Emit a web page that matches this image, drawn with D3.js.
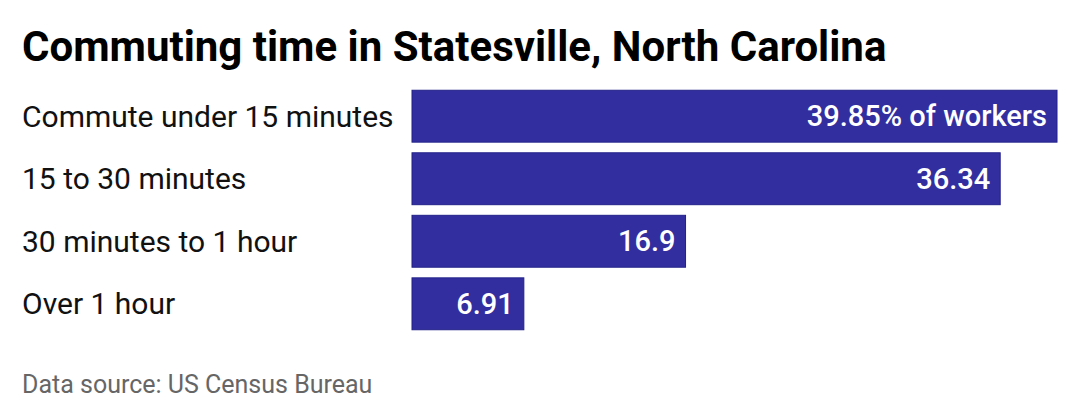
<!DOCTYPE html>
<html><head><meta charset="utf-8">
<script src="https://cdn.jsdelivr.net/npm/d3@7"></script>
<style>body{margin:0;background:#fff;font-family:Roboto,sans-serif;}</style>
</head><body>
<svg id="chart" width="1080" height="420"></svg>
<script>
const categories = ["Commute under 15 minutes", "15 to 30 minutes", "30 minutes to 1 hour", "Over 1 hour"];
const values = [39.85, 36.34, 16.9, 6.91];
const valueLabels = ["39.85% of workers", "36.34", "16.9", "6.91"];

const svg = d3.select("#chart");
const x = d3.scaleLinear().domain([0, 39.85]).range([412, 1057]);
const y = d3.scaleBand().domain(categories).range([89, 331]).paddingInner(0.17).paddingOuter(0.02);

svg.append("text").attr("x", 22).attr("y", 61)
    .style("font-size", "42px").style("font-weight", 700).attr("fill", "#000")
    .text("Commuting time in Statesville, North Carolina");

svg.selectAll(".bar").data(values).enter().append("rect")
    .attr("x", x(0)).attr("y", (d, i) => y(categories[i]))
    .attr("width", d => x(d) - x(0)).attr("height", y.bandwidth())
    .attr("fill", "#332ea0").attr("stroke", "#222088").attr("stroke-width", 1);

svg.selectAll(".cat").data(categories).enter().append("text")
    .attr("x", 22).attr("y", d => y(d) + y.bandwidth() / 2)
    .attr("dy", "0.35em").style("font-size", "30px").attr("fill", "#111")
    .text(d => d);

svg.selectAll(".val").data(values).enter().append("text")
    .attr("x", d => x(d) - 10).attr("y", (d, i) => y(categories[i]) + y.bandwidth() / 2)
    .attr("dy", "0.35em").attr("text-anchor", "end").style("font-size", "29px")
    .style("font-weight", 500).attr("fill", "#fff")
    .text((d, i) => valueLabels[i]);

svg.append("text").attr("x", 22).attr("y", 393)
    .style("font-size", "25px").attr("fill", "#666")
    .text("Data source: US Census Bureau");
</script>
</body></html>
